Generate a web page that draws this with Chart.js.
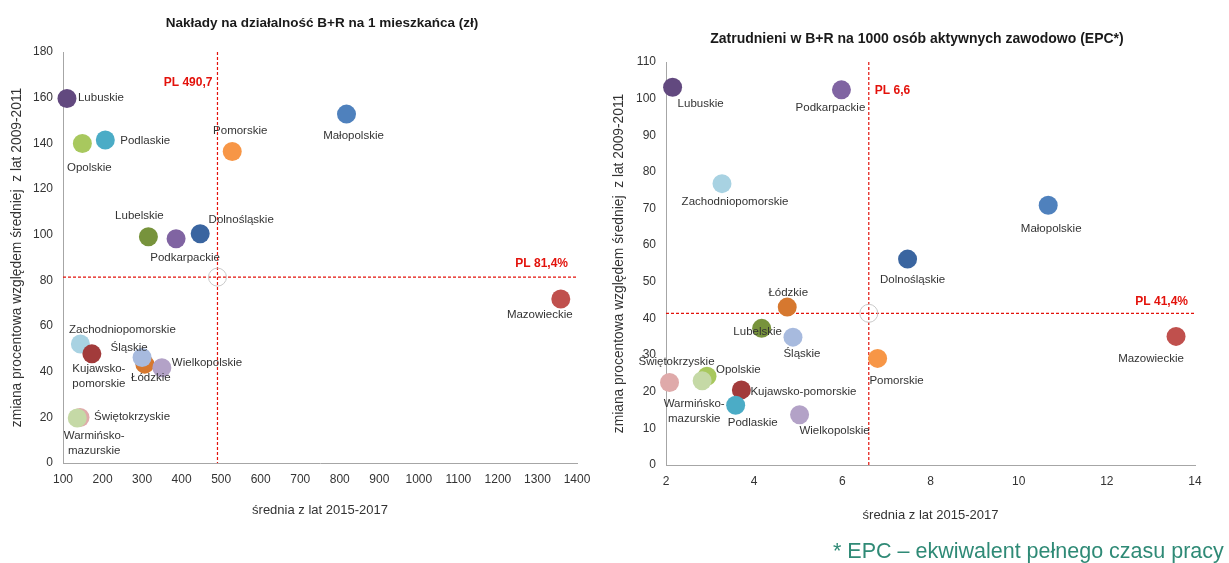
<!DOCTYPE html>
<html><head><meta charset="utf-8">
<script src="https://cdn.jsdelivr.net/npm/chart.js@4.4.1/dist/chart.umd.min.js"></script>
<style>
body{margin:0;background:#fff;width:1229px;height:563px;overflow:hidden;position:relative;font-family:"Liberation Sans",Arial,sans-serif}
.box{position:absolute;top:0;height:545px}
#b1{left:0;width:600px}
#b2{left:600px;width:629px}
.ttl{position:absolute;width:600px;text-align:center;font-weight:bold;color:#1a1a1a;white-space:nowrap;line-height:18px}
#t1{left:22px;top:14px;font-size:13.5px}
#t2{left:617px;top:29px;font-size:14px}
.note{position:absolute;left:833px;top:538px;font-size:21.5px;line-height:26px;color:#2f8a76;white-space:nowrap}
</style></head><body>
<div class="box" id="b1"><canvas id="c1"></canvas></div>
<div class="box" id="b2"><canvas id="c2"></canvas></div>
<div class="ttl" id="t1">Nakłady na działalność B+R na 1 mieszkańca (zł)</div>
<div class="ttl" id="t2">Zatrudnieni w B+R na 1000 osób aktywnych zawodowo (EPC*)</div>
<div class="note">* EPC – ekwiwalent pełnego czasu pracy</div>
<script>
// województwa (kolejność = kolejność rysowania)
const REGIONS = ['Zachodniopomorskie','Dolnośląskie','Kujawsko-pomorskie','Lubelskie','Lubuskie','Łódzkie','Małopolskie','Mazowieckie','Opolskie','Podkarpackie','Podlaskie','Pomorskie','Śląskie','Świętokrzyskie','Warmińsko-mazurskie','Wielkopolskie'];
const COLORS = ['#a8d2e2','#3a65a0','#a23b3b','#77933c','#62497f','#d6782f','#4f81bd','#c0504d','#a8c85e','#8064a2','#4bacc6','#f79646','#a7bade','#dfaaaa','#c5d9a6','#b3a2c7'];

// Nakłady na B+R na 1 mieszkańca (zł)
const NAKLADY_X = [144,447,173,316,110,307,817,1359,149,386,207,528,300,143,136,350];
const NAKLADY_Y = [52.1,100.4,47.8,99.1,159.6,43.3,152.8,71.8,139.9,98.2,141.5,136.4,46.2,19.9,19.7,41.7];
const PL_NAKLADY = [490.7, 81.4];

// Zatrudnieni w B+R na 1000 aktywnych zawodowo (EPC)
const EPC_X = [3.27,7.48,3.71,4.17,2.15,4.75,10.67,13.57,2.93,5.98,3.58,6.8,4.88,2.08,2.82,5.03];
const EPC_Y = [76.8,56.2,20.5,37.3,103.1,43.1,70.9,35.1,24.2,102.4,16.3,29.1,34.9,22.5,23.0,13.7];
const PL_EPC = [6.6, 41.4];

// polozenie etykiet wzgledem punktu: [tekst, dx, dy, wyrownanie]
const LBL1 = [
  ['Zachodniopomorskie',42,-14,'center'],['Dolnośląskie',41,-14,'center'],['Kujawsko-\npomorskie',7,15,'center'],
  ['Lubelskie',-9,-21,'center'],['Lubuskie',11,-1,'left'],['Łódzkie',6,14,'center'],['Małopolskie',7,22,'center'],
  ['Mazowieckie',-21,16,'center'],['Opolskie',7,24,'center'],['Podkarpackie',9,19,'center'],['Podlaskie',15,1,'left'],
  ['Pomorskie',8,-21,'center'],['Śląskie',-13,-10,'center'],['Świętokrzyskie',14,-1,'left'],
  ['Warmińsko-\nmazurskie',17,18,'center'],['Wielkopolskie',10,-5,'left']
];
const LBL2 = [
  ['Zachodniopomorskie',13,18,'center'],['Dolnośląskie',5,21,'center'],['Kujawsko-pomorskie',9,2,'left'],
  ['Lubelskie',-4,3,'center'],['Lubuskie',28,17,'center'],['Łódzkie',1,-14,'center'],['Małopolskie',3,24,'center'],
  ['Mazowieckie',-25,22,'center'],['Opolskie',9,-7,'left'],['Podkarpackie',-11,18,'center'],['Podlaskie',17,18,'center'],
  ['Pomorskie',19,22,'center'],['Śląskie',9,17,'center'],['Świętokrzyskie',7,-21,'center'],
  ['Warmińsko-\nmazurskie',-8,23,'center'],['Wielkopolskie',35,16,'center']
];

const FONT = '"Liberation Sans", Arial, sans-serif';
const TXT = '#333333';
const RED = '#e3120b';

const ptLabels = {
  id: 'ptLabels',
  afterDatasetsDraw(chart, args, opts) {
    const ctx = chart.ctx, pts = chart.getDatasetMeta(0).data;
    ctx.save();
    ctx.font = '11.5px ' + FONT;
    ctx.fillStyle = TXT;
    ctx.textBaseline = 'middle';
    opts.items.forEach((it, i) => {
      const p = pts[i];
      ctx.textAlign = it[3];
      it[0].split('\n').forEach((ln, k) => ctx.fillText(ln, p.x + it[1], p.y + it[2] + k * 15));
    });
    ctx.restore();
  }
};

const plRef = {
  id: 'plRef',
  beforeDatasetsDraw(chart, args, o) {
    const {ctx, chartArea: a, scales: {x, y}} = chart;
    const px = x.getPixelForValue(o.pl[0]), py = y.getPixelForValue(o.pl[1]);
    ctx.save();
    ctx.strokeStyle = RED;
    ctx.lineWidth = 1.2;
    ctx.setLineDash([3, 2]);
    ctx.beginPath();
    ctx.moveTo(px, a.top); ctx.lineTo(px, a.bottom);
    ctx.moveTo(a.left, py); ctx.lineTo(a.right, py);
    ctx.stroke();
    ctx.setLineDash([]);
    ctx.font = 'bold 12px ' + FONT;
    ctx.fillStyle = RED;
    ctx.textBaseline = 'middle';
    ctx.textAlign = o.xLbl[2];
    ctx.fillText(o.xText, px + o.xLbl[0], a.top + o.xLbl[1]);
    ctx.textAlign = 'right';
    ctx.fillText(o.yText, a.right + o.yLbl[0], py + o.yLbl[1]);
    ctx.restore();
  }
};

function mkScatter(id, cfg) {
  const el = document.getElementById(id);
  if (!el) return;
  const pts = cfg.xs.map((v, i) => ({x: v, y: cfg.ys[i]}));
  new Chart(el, {
    type: 'scatter',
    data: {
      labels: REGIONS,
      datasets: [
        {label: 'województwa', data: pts, backgroundColor: COLORS, pointRadius: 9.5, pointHoverRadius: 9.5, borderWidth: 0, clip: false},
        {label: 'PL', data: [{x: cfg.pl[0], y: cfg.pl[1]}], backgroundColor: 'rgba(0,0,0,0)', borderColor: '#c9c9c9', borderWidth: 1, pointRadius: 9, clip: false}
      ]
    },
    options: {
      responsive: true, maintainAspectRatio: false, animation: false,
      events: [],
      layout: {padding: {left: 0, right: cfg.padRight, top: cfg.padTop, bottom: 0}},
      plugins: {
        legend: {display: false},
        tooltip: {enabled: false},
        ptLabels: {items: cfg.labels},
        plRef: {pl: cfg.pl, xText: cfg.plXText, yText: cfg.plYText, xLbl: cfg.xLbl, yLbl: cfg.yLbl}
      },
      scales: {
        x: {
          type: 'linear', min: cfg.xMin, max: cfg.xMax,
          ticks: {stepSize: cfg.xStep, color: TXT, padding: 9, font: {family: FONT, size: 12}, callback: v => String(v)},
          grid: {display: false, drawTicks: false},
          border: {display: true, color: '#a6a6a6', width: 1},
          title: {display: true, text: 'średnia z lat 2015-2017', color: TXT, font: {family: FONT, size: 13}, padding: {top: 0, bottom: cfg.xTitleBottom}},
          afterFit: s => { s.height = cfg.xHeight; }
        },
        y: {
          min: 0, max: cfg.yMax,
          ticks: {stepSize: cfg.yStep, color: TXT, padding: 10, font: {family: FONT, size: 12}},
          grid: {display: false, drawTicks: false},
          border: {display: true, color: '#a6a6a6', width: 1},
          title: {display: true, text: 'zmiana procentowa względem średniej  z lat 2009-2011', color: TXT, font: {family: FONT, size: 13.8}, padding: {top: cfg.yTitleTop, bottom: 0}},
          afterFit: s => { s.width = cfg.yWidth; }
        }
      }
    },
    plugins: [ptLabels, plRef]
  });
}

mkScatter('c1', {
  xs: NAKLADY_X, ys: NAKLADY_Y, pl: PL_NAKLADY, labels: LBL1,
  xMin: 100, xMax: 1400, xStep: 100, yMax: 180, yStep: 20,
  padTop: 52, padRight: 23, yWidth: 63, xHeight: 82, xTitleBottom: 27, yTitleTop: 9,
  plXText: 'PL 490,7', plYText: 'PL 81,4%', xLbl: [-5, 31, 'right'], yLbl: [-9, -13]
});

mkScatter('c2', {
  xs: EPC_X, ys: EPC_Y, pl: PL_EPC, labels: LBL2,
  xMin: 2, xMax: 14, xStep: 2, yMax: 110, yStep: 10,
  padTop: 62, padRight: 34, yWidth: 66, xHeight: 80, xTitleBottom: 22, yTitleTop: 11,
  plXText: 'PL 6,6', plYText: 'PL 41,4%', xLbl: [6, 29, 'left'], yLbl: [-7, -12]
});
</script>
</body></html>
